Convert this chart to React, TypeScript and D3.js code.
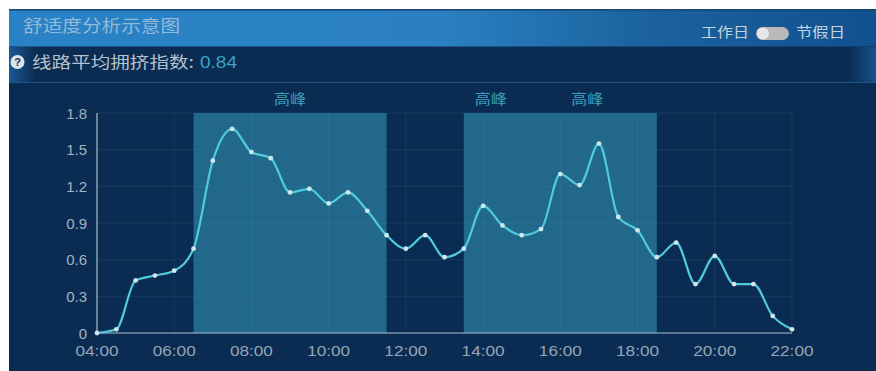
import React from "react";
import * as d3 from "d3";

const times = [
  4, 4.5, 5, 5.5, 6, 6.5, 7, 7.5, 8, 8.5, 9, 9.5, 10, 10.5, 11, 11.5, 12, 12.5,
  13, 13.5, 14, 14.5, 15, 15.5, 16, 16.5, 17, 17.5, 18, 18.5, 19, 19.5, 20,
  20.5, 21, 21.5, 22,
];
const comfort = [
  0, 0.03, 0.43, 0.47, 0.51, 0.69, 1.41, 1.67, 1.48, 1.43, 1.15, 1.18, 1.06,
  1.15, 1.0, 0.8, 0.69, 0.8, 0.62, 0.69, 1.04, 0.88, 0.8, 0.85, 1.3, 1.21, 1.55,
  0.95, 0.84, 0.62, 0.74, 0.4, 0.63, 0.4, 0.4, 0.14, 0.03,
];
const peakBands = [
  [6.5, 11.5],
  [13.5, 18.5],
];
const peakLabels = [
  { hour: 9, text: "高峰" },
  { hour: 14.2, text: "高峰" },
  { hour: 16.7, text: "高峰" },
];
const xTicks = [4, 6, 8, 10, 12, 14, 16, 18, 20, 22];
const yTicks = [0, 0.3, 0.6, 0.9, 1.2, 1.5, 1.8];

const font = "'Noto Sans CJK SC', 'Noto Sans', sans-serif";
const latin = "'Liberation Sans', Arial, sans-serif";
const W = 876;
const H = 371;

const x = d3.scaleLinear().domain([4, 22]).range([97, 792]);
const y = d3.scaleLinear().domain([0, 1.8]).range([333, 113]);
const line = d3
  .line<number>()
  .x((_, i) => x(times[i]))
  .y((d) => y(d))
  .curve(d3.curveMonotoneX);
const hh = (h: number) => `${String(h).padStart(2, "0")}:00`;

export default function App() {
  return (
    <svg
      width={W}
      height={H}
      style={{ position: "absolute", left: 0, top: 0, display: "block" }}
    >
      <defs>
        <linearGradient id="head" x1="0" x2="1" y1="0" y2="0">
          <stop offset="0" stopColor="#2a82c6" />
          <stop offset="0.5" stopColor="#2a80c3" />
          <stop offset="0.72" stopColor="#1c649f" />
          <stop offset="1" stopColor="#11508f" />
        </linearGradient>
        <linearGradient id="rowL" x1="0" x2="1" y1="0" y2="0">
          <stop offset="0" stopColor="#1a5a96" />
          <stop offset="1" stopColor="#0c2d52" />
        </linearGradient>
        <linearGradient id="rowR" x1="0" x2="1" y1="0" y2="0">
          <stop offset="0" stopColor="#0c2d52" />
          <stop offset="1" stopColor="#15528f" />
        </linearGradient>
      </defs>

      <rect x={9} y={9} width={W - 9} height={H - 9} fill="#0b2c52" />
      <rect x={9} y={9} width={W - 9} height={1.5} fill="#1a4a74" />
      <rect x={9} y={10.5} width={W - 9} height={36} fill="url(#head)" />
      <rect x={9} y={47} width={26} height={35} fill="url(#rowL)" />
      <rect x={848} y={47} width={28} height={35} fill="url(#rowR)" />
      <rect x={9} y={82} width={W - 9} height={1} fill="#1a5584" />

      <text
        x={23}
        y={32}
        fontFamily={font}
        fontSize={16.5}
        fill="#93bbd9"
        textLength={157}
        lengthAdjust="spacingAndGlyphs"
      >
        舒适度分析示意图
      </text>

      <text
        x={701}
        y={36.5}
        fontFamily={font}
        fontSize={14}
        fill="#c4d3df"
        textLength={48}
        lengthAdjust="spacingAndGlyphs"
      >
        工作日
      </text>
      <rect x={756} y={27} width={33} height={13} rx={6.5} fill="#b9b9bb" />
      <circle cx={763} cy={33.5} r={6} fill="#e6e6e8" />
      <text
        x={796}
        y={36.5}
        fontFamily={font}
        fontSize={14}
        fill="#c4d3df"
        textLength={49}
        lengthAdjust="spacingAndGlyphs"
      >
        节假日
      </text>

      <circle cx={17.5} cy={62} r={7} fill="#dfe4e8" />
      <text
        x={17.5}
        y={66}
        textAnchor="middle"
        fontFamily={latin}
        fontWeight={700}
        fontSize={11}
        fill="#12304f"
      >
        ?
      </text>
      <text
        x={32}
        y={68}
        fontFamily={font}
        fontSize={16}
        fill="#b4c1cd"
        textLength={162}
        lengthAdjust="spacingAndGlyphs"
      >
        线路平均拥挤指数:
      </text>
      <text
        x={200}
        y={67.5}
        fontFamily={latin}
        fontSize={16.5}
        fill="#3ba3c4"
        textLength={37}
        lengthAdjust="spacingAndGlyphs"
      >
        0.84
      </text>

      {peakBands.map(([a, b]) => (
        <rect
          key={a}
          x={x(a)}
          y={y(1.8)}
          width={x(b) - x(a)}
          height={y(0) - y(1.8)}
          fill="#21688b"
        />
      ))}

      {yTicks.slice(1).map((t) => (
        <line
          key={t}
          x1={x(4)}
          x2={x(22)}
          y1={y(t)}
          y2={y(t)}
          stroke="#7fb0d0"
          strokeOpacity={0.1}
        />
      ))}
      {xTicks.slice(1).map((t) => (
        <line
          key={t}
          x1={x(t)}
          x2={x(t)}
          y1={y(1.8)}
          y2={y(0)}
          stroke="#7fb0d0"
          strokeOpacity={0.1}
        />
      ))}

      <line x1={x(4)} x2={x(4)} y1={y(1.8)} y2={y(0)} stroke="#aebfcc" strokeWidth={1.2} />
      <line x1={x(4)} x2={x(22)} y1={y(0)} y2={y(0)} stroke="#aebfcc" strokeWidth={1.2} />

      {yTicks.map((t) => (
        <text
          key={t}
          x={87}
          y={y(t) + 5.5}
          textAnchor="end"
          fontFamily={latin}
          fontSize={15}
          fill="#a3b2bf"
        >
          {t}
        </text>
      ))}
      {xTicks.map((t) => (
        <text
          key={t}
          x={x(t) - 21.5}
          y={356}
          fontFamily={latin}
          fontSize={15.5}
          fill="#95a6b5"
          textLength={43}
          lengthAdjust="spacingAndGlyphs"
        >
          {hh(t)}
        </text>
      ))}

      {peakLabels.map((p) => (
        <text
          key={p.hour}
          x={x(p.hour) - 16}
          y={104}
          fontFamily={font}
          fontSize={13.5}
          fill="#3ba0bd"
          textLength={32}
          lengthAdjust="spacingAndGlyphs"
        >
          {p.text}
        </text>
      ))}

      <path d={line(comfort) ?? ""} fill="none" stroke="#50cbdb" strokeWidth={2.2} />
      {comfort.map((v, i) => (
        <circle key={i} cx={x(times[i])} cy={y(v)} r={2.4} fill="#cfe6ee" />
      ))}
    </svg>
  );
}
